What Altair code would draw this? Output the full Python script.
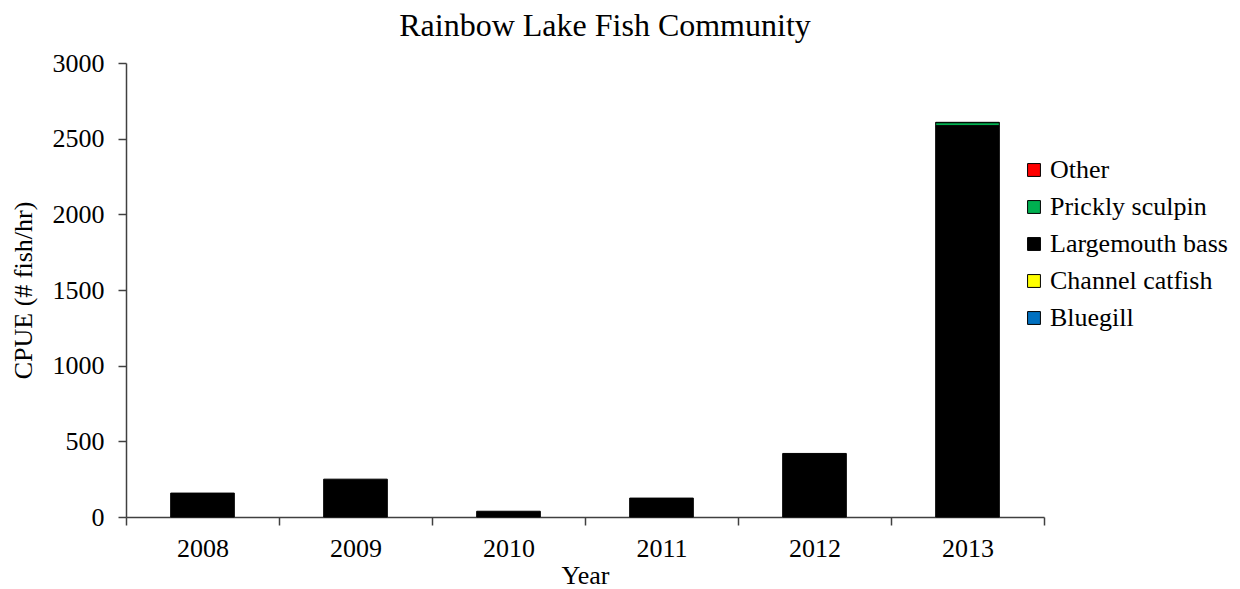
import altair as alt
import pandas as pd

years = ["2008", "2009", "2010", "2011", "2012", "2013"]
species = ["Other", "Prickly sculpin", "Largemouth bass", "Channel catfish", "Bluegill"]
colors = ["#FF0000", "#00B050", "#000000", "#FFFF00", "#0070C0"]
stack_order = [4, 3, 2, 1, 0]

bluegill = [0, 0, 0, 0, 0, 0]
channel_catfish = [0, 0, 0, 0, 0, 0]
largemouth_bass = [158, 250, 38, 125, 420, 2585]
prickly_sculpin = [0, 0, 0, 0, 0, 20]
other = [0, 0, 0, 0, 0, 3]

series = {
    "Other": other,
    "Prickly sculpin": prickly_sculpin,
    "Largemouth bass": largemouth_bass,
    "Channel catfish": channel_catfish,
    "Bluegill": bluegill,
}

rows = []
for sp, od in zip(species, stack_order):
    for y, v in zip(years, series[sp]):
        rows.append({"year": y, "species": sp, "cpue": v, "ord": od})
df = pd.DataFrame(rows)

FONT = "Liberation Serif"

chart = (
    alt.Chart(df)
    .transform_filter("datum.cpue > 0")
    .mark_bar(stroke="#000000", strokeWidth=1, width=alt.RelativeBandSize(0.416))
    .encode(
        x=alt.X(
            "year:N",
            title="Year",
            scale=alt.Scale(paddingInner=0, paddingOuter=0),
            axis=alt.Axis(
                labelAngle=0,
                tickBand="extent",
                tickSize=8,
                labelPadding=10,
                titlePadding=1,
            ),
        ),
        y=alt.Y(
            "cpue:Q",
            title="CPUE (# fish/hr)",
            stack="zero",
            scale=alt.Scale(domain=[0, 3000], nice=False),
            axis=alt.Axis(
                values=[0, 500, 1000, 1500, 2000, 2500, 3000],
                format="d",
                tickSize=8,
                labelPadding=14,
                titlePadding=16,
                grid=False,
            ),
        ),
        color=alt.Color(
            "species:N",
            scale=alt.Scale(domain=species, range=colors),
            legend=alt.Legend(
                title=None,
                orient="none",
                legendX=895,
                legendY=94,
                symbolType="square",
                symbolSize=165,
                symbolStrokeColor="#000000",
                symbolStrokeWidth=1,
                symbolOpacity=1,
                labelFont=FONT,
                labelFontSize=26,
                labelColor="#000000",
                labelOffset=3,
                rowPadding=11,
                labelLimit=300,
            ),
        ),
        order=alt.Order("ord:Q", sort="ascending"),
    )
    .properties(
        width=918,
        height=454,
        title=alt.TitleParams(
            "Rainbow Lake Fish Community",
            font=FONT,
            fontSize=32,
            fontWeight="normal",
            color="#000000",
            anchor="middle",
            dx=20,
            offset=7,
        ),
        autosize=alt.AutoSizeParams(type="none"),
        padding={"left": 118, "top": 55, "right": 188, "bottom": 72},
    )
    .configure_view(stroke=None)
    .configure_axis(
        labelFont=FONT,
        titleFont=FONT,
        labelFontSize=26,
        titleFontSize=26,
        titleFontWeight="normal",
        labelColor="#000000",
        titleColor="#000000",
        domainColor="#404040",
        tickColor="#404040",
        domainWidth=1.5,
        tickWidth=1.5,
    )
)

chart.save("out.html", embed_options={"renderer": "svg", "actions": False})
